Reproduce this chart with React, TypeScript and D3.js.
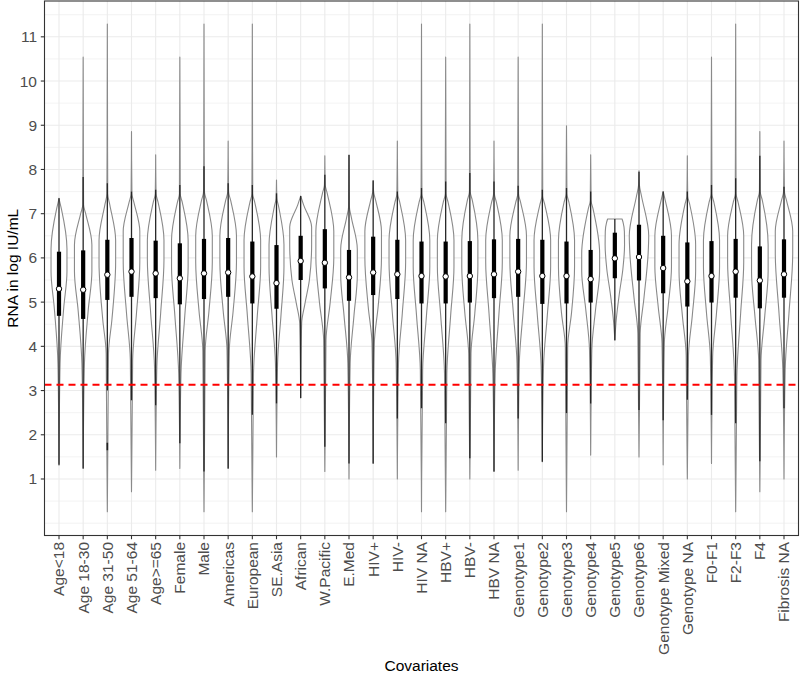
import React from "react";
import * as d3 from "d3";

const categories = [
  "Age<18", "Age 18-30", "Age 31-50", "Age 51-64", "Age>=65", "Female", "Male",
  "Americas", "European", "SE.Asia", "African", "W.Pacific", "E.Med",
  "HIV+", "HIV-", "HIV NA", "HBV+", "HBV-", "HBV NA",
  "Genotype1", "Genotype2", "Genotype3", "Genotype4", "Genotype5", "Genotype6",
  "Genotype Mixed", "Genotype NA", "F0-F1", "F2-F3", "F4", "Fibrosis NA",
];

// box statistics (log IU/mL)
const q1 = [4.69, 4.62, 5.05, 5.12, 5.09, 4.95, 5.07, 5.12, 4.97, 4.85, 5.5, 5.31, 5.03, 5.16, 5.07, 4.97, 4.97, 4.99, 5.09, 5.12, 4.96, 4.97, 4.99, 5.54, 5.49, 5.2, 4.9, 4.99, 5.1, 4.86, 5.1];
const medians = [5.3, 5.28, 5.62, 5.69, 5.65, 5.54, 5.65, 5.67, 5.58, 5.43, 5.93, 5.89, 5.56, 5.67, 5.63, 5.59, 5.58, 5.59, 5.63, 5.69, 5.59, 5.59, 5.52, 5.99, 6.02, 5.77, 5.47, 5.59, 5.69, 5.49, 5.63];
const q3 = [6.14, 6.17, 6.41, 6.45, 6.39, 6.33, 6.43, 6.45, 6.37, 6.29, 6.5, 6.65, 6.18, 6.48, 6.41, 6.37, 6.37, 6.38, 6.42, 6.43, 6.41, 6.37, 6.18, 6.57, 6.75, 6.5, 6.35, 6.38, 6.43, 6.26, 6.42];
const whiskerLow = [1.32, 1.24, 3.0, 2.78, 2.67, 1.81, 1.17, 1.24, 2.45, 2.71, 2.83, 1.73, 1.35, 1.35, 2.37, 2.6, 2.26, 1.47, 1.17, 2.37, 1.39, 2.49, 2.71, 4.14, 2.56, 2.33, 2.79, 2.45, 2.26, 1.4, 2.6];
const whiskerHigh = [7.35, 7.83, 7.69, 7.5, 7.54, 7.65, 8.07, 7.69, 7.65, 7.46, 7.4, 7.88, 8.33, 7.75, 7.5, 7.58, 7.73, 7.92, 7.73, 7.63, 7.54, 7.58, 7.5, 6.88, 7.95, 7.5, 7.5, 7.65, 7.8, 8.31, 7.61];
const outlierRuns = [{ cat: "Age 31-50", lo: 1.65, hi: 1.82 }];

// violin outlines: [value, relative density]
const violinProfiles: number[][][] = [
  [[1.31, 0], [3.62, 0.13], [4.85, 0.56], [5.7, 0.96], [6.2, 0.96], [7.1, 0.3], [7.3, 0.05], [7.35, 0]],
  [[1.24, 0], [3.6, 0.15], [4.8, 0.6], [5.7, 1.05], [6.3, 1.05], [7.0, 0.3], [7.2, 0.05], [10.54, 0]],
  [[0.26, 0], [3.84, 0.14], [4.6, 0.55], [5.9, 1], [6.4, 1], [7.2, 0.3], [7.45, 0.05], [11.29, 0]],
  [[0.71, 0], [3.69, 0.14], [4.75, 0.6], [5.9, 1], [6.6, 1], [7.25, 0.3], [7.45, 0.05], [8.86, 0]],
  [[1.2, 0], [3.54, 0.14], [4.75, 0.6], [5.95, 1], [6.4, 1], [7.25, 0.3], [7.45, 0.05], [8.33, 0]],
  [[1.24, 0], [3.39, 0.14], [4.7, 0.6], [5.8, 1], [6.4, 1], [7.25, 0.3], [7.45, 0.05], [10.54, 0]],
  [[0.26, 0], [3.9, 0.14], [4.8, 0.6], [5.9, 1], [6.5, 1], [7.3, 0.3], [7.5, 0.05], [11.29, 0]],
  [[1.24, 0], [3.92, 0.14], [4.8, 0.6], [5.9, 1], [6.5, 1], [7.3, 0.3], [7.5, 0.05], [8.64, 0]],
  [[0.26, 0], [3.39, 0.14], [4.7, 0.6], [5.8, 1], [6.4, 1], [7.25, 0.3], [7.45, 0.05], [11.29, 0]],
  [[1.5, 0], [3.62, 0.13], [4.7, 0.54], [5.8, 0.9], [6.3, 0.9], [7.15, 0.27], [7.35, 0.05], [7.76, 0]],
  [[2.83, 0], [4.52, 0.12], [4.95, 0.5], [5.5, 1.05], [6.3, 1.32], [6.7, 1.32], [7.2, 0.35], [7.4, 0]],
  [[1.17, 0], [4.14, 0.14], [5.0, 0.65], [6.0, 1.08], [6.6, 1.08], [7.45, 0.3], [7.65, 0.05], [8.31, 0]],
  [[1.0, 0], [3.62, 0.14], [4.7, 0.6], [5.6, 1], [6.2, 1], [6.9, 0.3], [7.15, 0.05], [8.33, 0]],
  [[1.35, 0], [4.07, 0.14], [4.9, 0.6], [6.0, 1], [6.6, 1], [7.3, 0.3], [7.5, 0.05], [7.75, 0]],
  [[1.0, 0], [3.62, 0.14], [4.75, 0.6], [5.9, 1], [6.4, 1], [7.25, 0.3], [7.45, 0.05], [8.64, 0]],
  [[0.26, 0], [3.47, 0.14], [4.7, 0.6], [5.8, 1], [6.4, 1], [7.25, 0.3], [7.45, 0.05], [11.29, 0]],
  [[0.26, 0], [3.39, 0.14], [4.7, 0.6], [5.8, 1], [6.4, 1], [7.25, 0.3], [7.45, 0.05], [10.54, 0]],
  [[1.0, 0], [3.84, 0.14], [4.75, 0.6], [5.8, 0.97], [6.4, 0.97], [7.3, 0.3], [7.5, 0.05], [11.29, 0]],
  [[1.17, 0], [3.39, 0.14], [4.75, 0.6], [5.9, 1], [6.4, 1], [7.25, 0.3], [7.45, 0.05], [8.64, 0]],
  [[1.2, 0], [3.62, 0.14], [4.8, 0.6], [5.9, 1], [6.5, 1], [7.25, 0.3], [7.45, 0.05], [10.54, 0]],
  [[1.39, 0], [3.54, 0.14], [4.7, 0.6], [5.8, 1], [6.4, 1], [7.2, 0.3], [7.4, 0.05], [11.29, 0]],
  [[0.26, 0], [3.99, 0.14], [4.75, 0.6], [5.8, 0.97], [6.4, 0.97], [7.25, 0.3], [7.45, 0.05], [8.99, 0]],
  [[1.54, 0], [3.92, 0.14], [4.85, 0.6], [5.7, 1.08], [6.1, 1.08], [7.1, 0.3], [7.3, 0.05], [8.33, 0]],
  [[4.14, 0], [4.6, 0.17], [5.2, 0.55], [5.75, 0.97], [6.3, 1.17], [6.6, 1.15], [6.8, 1.0], [6.88, 0.87]],
  [[1.5, 0], [4.29, 0.14], [5.1, 0.6], [6.1, 1.1], [6.5, 1.17], [7.4, 0.3], [7.65, 0.05], [7.97, 0]],
  [[1.32, 0], [4.07, 0.14], [4.9, 0.6], [5.8, 1], [6.5, 1], [7.3, 0.25], [7.5, 0]],
  [[1.0, 0], [3.8, 0.14], [4.7, 0.6], [5.7, 1], [6.3, 1], [7.2, 0.3], [7.4, 0.05], [8.31, 0]],
  [[1.35, 0], [3.77, 0.14], [4.75, 0.6], [5.8, 0.97], [6.4, 0.97], [7.25, 0.3], [7.45, 0.05], [10.54, 0]],
  [[0.26, 0], [3.31, 0.14], [4.75, 0.6], [5.9, 0.97], [6.5, 0.97], [7.25, 0.3], [7.45, 0.05], [11.29, 0]],
  [[0.71, 0], [3.69, 0.14], [4.7, 0.6], [5.7, 1], [6.3, 1], [7.3, 0.3], [7.5, 0.05], [8.86, 0]],
  [[1.0, 0], [3.47, 0.14], [4.75, 0.6], [6.1, 1.05], [6.6, 1.05], [7.3, 0.3], [7.5, 0.05], [8.64, 0]],
];

const yTicks = [1, 2, 3, 4, 5, 6, 7, 8, 9, 10, 11];
const yMinorTicks = [0, 0.5, 1.5, 2.5, 3.5, 4.5, 5.5, 6.5, 7.5, 8.5, 9.5, 10.5, 11.5];
const thresholdValue = 3.13;
const xTitle = "Covariates";
const yTitle = "RNA in log IU/mL";

const W = 800;
const H = 678;
const P = { left: 44.5, right: 798.5, top: 1, bottom: 535.5 };
const FONT = "'Liberation Sans', Arial, sans-serif";

export default function App() {
  const x = d3.scalePoint<string>().domain(categories).range([P.left, P.right]).padding(0.6);
  const y = d3.scaleLinear().domain([-0.278, 11.81]).range([P.bottom, P.top]);
  const w = d3.scaleLinear().domain([0, 1]).range([0, 8.3]);

  return (
    <svg width={W} height={H} style={{ position: "absolute", left: 0, top: 0, background: "#fff" }}>
      <rect x={0} y={0} width={W} height={H} fill="#fff" />
      {/* grid */}
      {yMinorTicks.map((t) => (
        <line key={"mn" + t} x1={P.left} x2={P.right} y1={y(t)} y2={y(t)} stroke="#EBEBEB" strokeWidth={0.6} />
      ))}
      {yTicks.map((t) => (
        <line key={"mj" + t} x1={P.left} x2={P.right} y1={y(t)} y2={y(t)} stroke="#EBEBEB" strokeWidth={1.1} />
      ))}
      {categories.map((c) => (
        <line key={"vg" + c} x1={x(c)} x2={x(c)} y1={P.top} y2={P.bottom} stroke="#EBEBEB" strokeWidth={1.1} />
      ))}

      {/* violins */}
      {categories.map((c, i) => {
        const cx = x(c) as number;
        const pts = [...violinProfiles[i]].sort((a, b) => b[0] - a[0]);
        const area = d3
          .area<number[]>()
          .y((d) => y(d[0]))
          .x0((d) => cx - w(d[1]))
          .x1((d) => cx + w(d[1]))
          .curve(d3.curveMonotoneY);
        return (
          <path key={"v" + c} d={area(pts) || ""} fill="#fff" stroke="#8a8a8a" strokeWidth={1.1} strokeLinejoin="round" />
        );
      })}

      {/* whiskers */}
      {categories.map((c, i) => (
        <line key={"w" + c} x1={x(c)} x2={x(c)} y1={y(whiskerLow[i])} y2={y(whiskerHigh[i])} stroke="#262626" strokeWidth={1.3} />
      ))}
      {outlierRuns.map((o) => (
        <line key={"o" + o.cat} x1={x(o.cat)} x2={x(o.cat)} y1={y(o.lo)} y2={y(o.hi)} stroke="#222" strokeWidth={1.6} />
      ))}
      {/* boxes */}
      {categories.map((c, i) => (
        <rect key={"b" + c} x={(x(c) as number) - 2.1} width={4.2} y={y(q3[i])} height={y(q1[i]) - y(q3[i])} fill="#000" />
      ))}
      {/* medians */}
      {categories.map((c, i) => (
        <circle key={"m" + c} cx={x(c)} cy={y(medians[i])} r={2.7} fill="#fff" stroke="#000" strokeWidth={1} />
      ))}

      {/* threshold */}
      <line x1={P.left} x2={P.right} y1={y(thresholdValue)} y2={y(thresholdValue)} stroke="#FF0000" strokeWidth={2} strokeDasharray="7,5" />

      {/* panel border */}
      <rect x={P.left} y={P.top} width={P.right - P.left} height={P.bottom - P.top} fill="none" stroke="#333" strokeWidth={1.1} />

      {/* y axis */}
      {yTicks.map((t) => (
        <g key={"yt" + t}>
          <line x1={P.left - 3.7} x2={P.left} y1={y(t)} y2={y(t)} stroke="#333" strokeWidth={1.1} />
          <text x={P.left - 7.5} y={y(t)} textAnchor="end" dominantBaseline="central" fontFamily={FONT} fontSize={15.5} fill="#4D4D4D">
            {t}
          </text>
        </g>
      ))}
      {/* x axis */}
      {categories.map((c) => (
        <g key={"xt" + c}>
          <line x1={x(c)} x2={x(c)} y1={P.bottom} y2={P.bottom + 3.7} stroke="#333" strokeWidth={1.1} />
          <text
            transform={`translate(${x(c)},${P.bottom + 6.5}) rotate(-90)`}
            textAnchor="end"
            dy="0.35em"
            fontFamily={FONT}
            fontSize={15.5}
            fill="#4D4D4D"
          >
            {c}
          </text>
        </g>
      ))}

      <text x={(P.left + P.right) / 2} y={671} textAnchor="middle" fontFamily={FONT} fontSize={15.5} fill="#000">
        {xTitle}
      </text>
      <text transform={`translate(12,${(P.top + P.bottom) / 2}) rotate(-90)`} textAnchor="middle" dominantBaseline="central" fontFamily={FONT} fontSize={15.5} fill="#000">
        {yTitle}
      </text>
    </svg>
  );
}
